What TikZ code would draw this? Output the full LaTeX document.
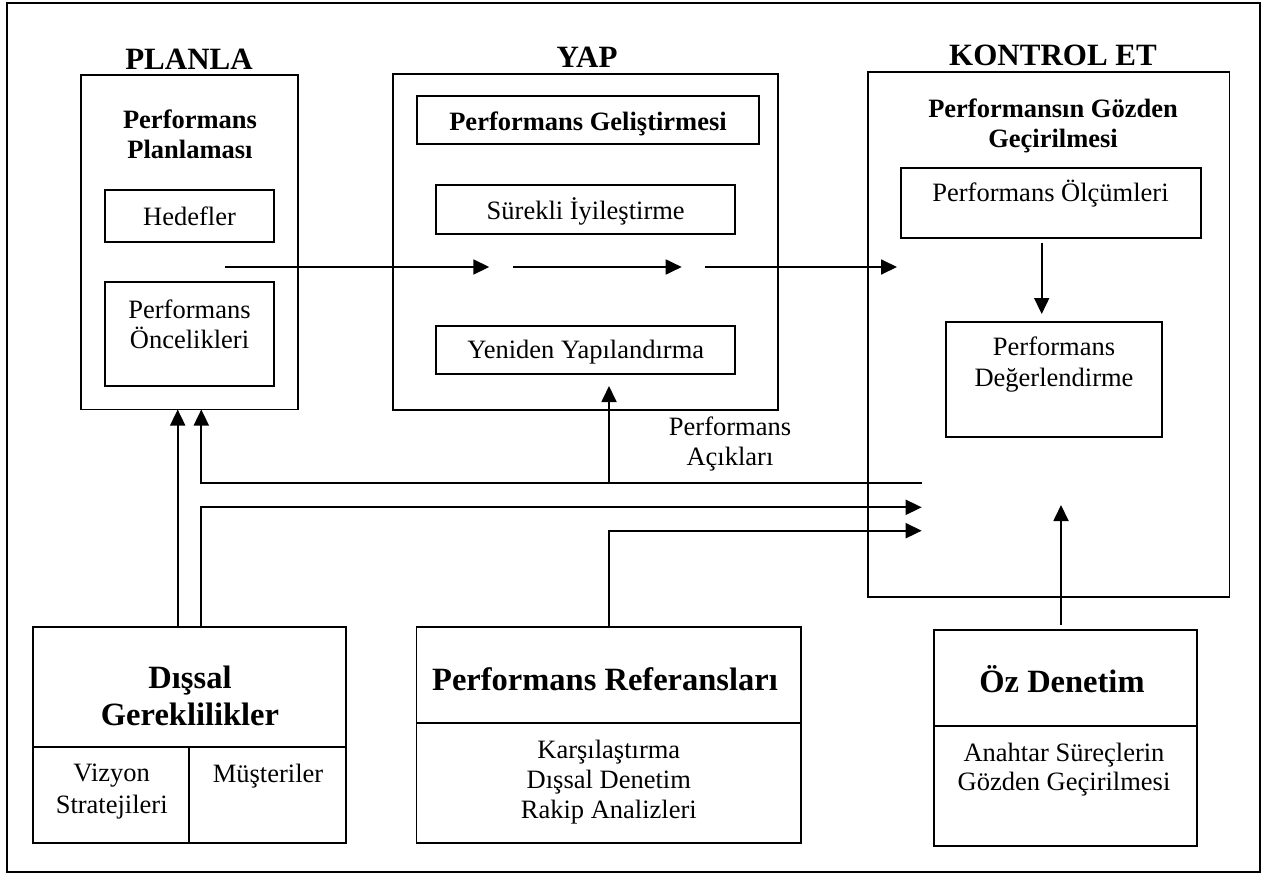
\documentclass[tikz,border=0pt]{standalone}
\usepackage{fontspec}
\setmainfont{Liberation Serif}
\usetikzlibrary{arrows.meta}
\begin{document}
\begin{tikzpicture}[x=1pt,y=-1pt,
  box/.style 2 args={draw, line width=1.8pt, inner sep=0pt, outer sep=0pt, minimum width=#1pt, minimum height=#2pt},
  tx/.style={font=\fontsize{26.5}{30}\selectfont, inner sep=0pt, anchor=base},
  hb/.style={font=\bfseries\fontsize{26.5}{30}\selectfont, inner sep=0pt, anchor=base},
  big/.style={font=\bfseries\fontsize{32.5}{37}\selectfont, inner sep=0pt, anchor=base},
  ttl/.style={font=\bfseries\fontsize{31}{36}\selectfont, inner sep=0pt, anchor=base},
  ln/.style={line width=1.8pt},
  arr/.style={line width=1.8pt, -{Triangle[length=16pt,width=15pt]}}]
\useasboundingbox (0,0) rectangle (1276,875);
% outer frame
\node[box={1253.3}{869}] (frame) at (633.35,437.2) {};
% PLANLA
\node[ttl] (tplan) at (189,70) {PLANLA};
\node[box={216.7}{334.8}] (plan) at (189.35,242.1) {};
\node[hb] (pp1) at (190,128) {Performans};
\node[hb] (pp2) at (190,158) {Planlaması};
\node[box={169}{52.3}] (hed) at (189.5,215.85) {};
\node[tx] (thed) at (189.5,225) {Hedefler};
\node[box={169}{104}] (onc) at (189.5,334) {};
\node[tx] (to1) at (189.5,318) {Performans};
\node[tx] (to2) at (189.5,348) {Öncelikleri};
% YAP
\node[ttl] (tyap) at (587,67) {YAP};
\node[box={384.7}{335.7}] (yap) at (585.35,242.15) {};
\node[box={342.3}{48.3}] (gel) at (588.15,119.85) {};
\node[hb] (tgel) at (588,130) {Performans Geliştirmesi};
\node[box={299.6}{48.4}] (sur) at (585.5,209.5) {};
\node[tx] (tsur) at (585.7,219) {Sürekli İyileştirme};
\node[box={299.6}{48.3}] (yen) at (585.5,349.85) {};
\node[tx] (tyen) at (585.7,358.3) {Yeniden Yapılandırma};
% KONTROL ET
\node[ttl] (tkon) at (1053,66) {KONTROL ET};
\node[box={361.2}{525.6}] (kon) at (1048.9,334.5) {};
\node[hb] (pk1) at (1053,117.3) {Performansın Gözden};
\node[hb] (pk2) at (1053,147.6) {Geçirilmesi};
\node[box={299.7}{70}] (olc) at (1050.85,203.3) {};
\node[tx] (tolc) at (1050.5,201.7) {Performans Ölçümleri};
\node[box={216.3}{114.4}] (deg) at (1054.15,379.5) {};
\node[tx] (td1) at (1054,355) {Performans};
\node[tx] (td2) at (1054,386) {Değerlendirme};
% gap label
\node[tx] (ta1) at (730,435) {Performans};
\node[tx] (ta2) at (730,465) {Açıkları};
% Dissal Gereklilikler
\node[box={312.7}{119.7}] (dis) at (189.35,686.85) {};
\node[big] (dg1) at (190,688.3) {Dışsal};
\node[big] (dg2) at (190,725) {Gereklilikler};
\node[box={156.3}{96}] (viz) at (111.15,794.7) {};
\node[tx] (tv1) at (111.7,781.7) {Vizyon};
\node[tx] (tv2) at (111.7,813.3) {Stratejileri};
\node[box={156.4}{96}] (mus) at (267.5,794.7) {};
\node[tx] (tmus) at (268,782.7) {Müşteriler};
% Performans Referanslari
\node[box={384.5}{95.4}] (ref) at (608.75,675) {};
\node[big] (tref) at (605,690) {Performans Referansları};
\node[box={384.5}{120}] (refb) at (608.75,782.7) {};
\node[tx] (tr1) at (608.8,758.3) {Karşılaştırma};
\node[tx] (tr2) at (608.8,788.3) {Dışsal Denetim};
\node[tx] (tr3) at (608.8,818.3) {Rakip Analizleri};
% Oz Denetim
\node[box={263.3}{96}] (oz) at (1065.55,678) {};
\node[big] (toz) at (1062,692.7) {Öz Denetim};
\node[box={263.3}{120}] (ozb) at (1065.55,786) {};
\node[tx] (tz1) at (1064,761) {Anahtar Süreçlerin};
\node[tx] (tz2) at (1064,790.7) {Gözden Geçirilmesi};
% coordinates for connectors
\coordinate (m0) at (225,267);
\coordinate (m1) at (489.3,267);
\coordinate (m2) at (513.3,267);
\coordinate (m3) at (681.7,267);
\coordinate (m4) at (705,267);
\coordinate (m5) at (897,267);
\coordinate (d1) at (1041.7,242.7);
\coordinate (d2) at (1041.7,314);
\coordinate (xa) at (177.7,0);
\coordinate (xb) at (201.3,0);
\coordinate (xc) at (609,0);
\coordinate (fb) at (922.3,482.7);
\coordinate (ia) at (921.7,507.3);
\coordinate (ib) at (921.7,530.7);
\coordinate (yt) at (609,386);
\coordinate (o1) at (1061,625);
\coordinate (o2) at (1061,505);
% connectors
\draw[arr] (m0) -- (m1);
\draw[arr] (m2) -- (m3);
\draw[arr] (m4) -- (m5);
\draw[arr] (d1) -- (d2);
\draw[arr] (dis.north -| xa) -- (plan.south -| xa);
\draw[arr] (fb) -- (fb -| xb) -- (plan.south -| xb);
\draw[arr] (fb -| xc) -- (yt);
\draw[arr] (dis.north -| xb) -- (ia -| xb) -- (ia);
\draw[arr] (ref.north -| xc) -- (ib -| xc) -- (ib);
\draw[arr] (o1) -- (o2);
\end{tikzpicture}
\end{document}
